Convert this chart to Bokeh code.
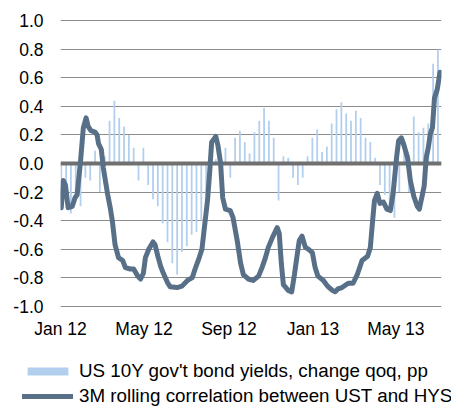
import pandas as pd
from bokeh.plotting import figure
from bokeh.layouts import column
from bokeh.models import (Range1d, FixedTicker, DatetimeTickFormatter, NumeralTickFormatter,
                          Legend, LegendItem, ColumnDataSource)
from bokeh.embed import file_html
from bokeh.resources import INLINE

# ---- data ----
bar_values = [
    -0.30, -0.26, -0.35, -0.22, -0.30, -0.10, -0.12, 0.09, -0.20, 0.05,
    0.30, 0.44, 0.32, 0.26, 0.20, 0.11, -0.12, 0.11, -0.15, -0.25,
    -0.30, -0.42, -0.55, -0.70, -0.78, -0.62, -0.58, -0.50, -0.48, -0.40,
    -0.22, -0.05, 0.03, -0.03, 0.11, -0.10, 0.18, 0.23, 0.15, 0.07,
    0.22, 0.30, 0.39, 0.30, 0.18, -0.26, 0.05, 0.04, -0.10, -0.15,
    -0.10, 0.05, 0.18, 0.24, 0.08, 0.12, 0.28, 0.38, 0.43, 0.35,
    0.30, 0.37, 0.32, 0.18, 0.15, 0.04, -0.15, -0.22, -0.30, -0.38,
    -0.20, 0.10, -0.20, 0.33, 0.22, 0.25, 0.28, 0.70, 0.80,
]
bar_dates = pd.date_range("2012-01-02", periods=len(bar_values), freq="7D")

corr_dates = [
    "2012-01-02", "2012-01-05", "2012-01-08", "2012-01-12", "2012-01-18", "2012-01-22",
    "2012-01-25", "2012-01-30", "2012-02-03", "2012-02-07", "2012-02-10", "2012-02-14",
    "2012-02-20", "2012-02-23", "2012-02-25", "2012-02-29", "2012-03-03", "2012-03-09",
    "2012-03-13", "2012-03-16", "2012-03-20", "2012-03-25", "2012-03-31", "2012-04-04",
    "2012-04-11", "2012-04-16", "2012-04-22", "2012-04-26", "2012-04-30", "2012-05-03",
    "2012-05-08", "2012-05-14", "2012-05-17", "2012-05-21", "2012-05-25", "2012-05-29",
    "2012-06-04", "2012-06-08", "2012-06-18", "2012-06-25", "2012-07-03", "2012-07-10",
    "2012-07-14", "2012-07-20", "2012-07-24", "2012-07-27", "2012-08-01", "2012-08-04",
    "2012-08-07", "2012-08-13", "2012-08-16", "2012-08-20", "2012-08-23", "2012-08-27",
    "2012-09-03", "2012-09-07", "2012-09-13", "2012-09-18", "2012-09-22", "2012-09-29",
    "2012-10-06", "2012-10-14", "2012-10-19", "2012-10-24", "2012-10-28", "2012-11-03",
    "2012-11-10", "2012-11-13", "2012-11-16", "2012-11-19", "2012-11-26", "2012-12-01",
    "2012-12-05", "2012-12-09", "2012-12-12", "2012-12-16", "2012-12-21", "2012-12-25",
    "2012-12-31", "2013-01-04", "2013-01-08", "2013-01-16", "2013-01-22", "2013-01-29",
    "2013-02-02", "2013-02-06", "2013-02-12", "2013-02-21", "2013-02-28", "2013-03-06",
    "2013-03-13", "2013-03-21", "2013-03-25", "2013-03-28", "2013-03-31", "2013-04-04",
    "2013-04-08", "2013-04-13", "2013-04-18", "2013-04-23", "2013-04-27", "2013-05-02",
    "2013-05-05", "2013-05-09", "2013-05-12", "2013-05-18", "2013-05-22", "2013-05-27",
    "2013-06-01", "2013-06-04", "2013-06-08", "2013-06-11", "2013-06-14", "2013-06-17",
    "2013-06-20", "2013-06-23", "2013-06-26", "2013-06-30", "2013-07-04",
]
corr_values = [
    -0.31, -0.12, -0.15, -0.31, -0.30, -0.24,
    -0.22, 0.02, 0.25, 0.32, 0.26, 0.23,
    0.22, 0.20, 0.14, 0.10, -0.03, -0.21,
    -0.31, -0.40, -0.57, -0.66, -0.68, -0.73,
    -0.74, -0.74, -0.79, -0.81, -0.77, -0.66,
    -0.60, -0.55, -0.57, -0.65, -0.72, -0.77,
    -0.835, -0.865, -0.87, -0.86, -0.82, -0.80,
    -0.74, -0.66, -0.60, -0.47, -0.26, -0.07,
    0.15, 0.19, 0.13, 0.00, -0.24, -0.32,
    -0.33, -0.38, -0.54, -0.70, -0.78, -0.81,
    -0.82, -0.79, -0.73, -0.66, -0.59, -0.52,
    -0.45, -0.49, -0.70, -0.85, -0.89, -0.90,
    -0.78, -0.64, -0.54, -0.51, -0.59, -0.60,
    -0.625, -0.73, -0.79, -0.82, -0.86, -0.89,
    -0.90, -0.88, -0.87, -0.84, -0.84, -0.78,
    -0.68, -0.65, -0.59, -0.42, -0.26, -0.21,
    -0.28, -0.27, -0.32, -0.33, -0.21, 0.04,
    0.16, 0.18, 0.14, 0.04, -0.12, -0.23,
    -0.30, -0.32, -0.23, -0.16, 0.04, 0.11,
    0.21, 0.25, 0.46, 0.52, 0.64,
]

x_tick_dates = ["2012-01-01", "2012-05-01", "2012-09-01", "2013-01-01", "2013-05-01"]
y_ticks = [-1.0, -0.8, -0.6, -0.4, -0.2, 0.0, 0.2, 0.4, 0.6, 0.8, 1.0]
zero_level = [0.0]
bar_label = "US 10Y gov't bond yields, change qoq, pp"
line_label = "3M rolling correlation between UST and HYS"

BAR_COLOR = "#b3cfee"
LINE_COLOR = "#587087"
FONT = "Liberation Sans"

bar_src = ColumnDataSource(dict(x=bar_dates, top=bar_values))
corr_src = ColumnDataSource(dict(x=pd.to_datetime(corr_dates), y=corr_values))

# ---------------- main chart ----------------
p = figure(width=451, height=345, x_axis_type="datetime",
           x_range=Range1d(pd.Timestamp("2011-12-31 22:00"), pd.Timestamp("2013-07-06 04:00")),
           y_range=Range1d(-1.01, 1.01),
           output_backend="svg", toolbar_location=None,
           min_border_left=60, min_border_right=10, min_border_top=19, min_border_bottom=38)
p.frame_align = False
p.outline_line_color = None
p.background_fill_color = "white"
p.border_fill_color = "white"

bars = p.vbar(x="x", top="top", bottom=0, width=2.6 * 86400000, source=bar_src,
              fill_color=BAR_COLOR, line_color=None)
p.hspan(y=zero_level, line_color="#707070", line_width=4)
line = p.line(x="x", y="y", source=corr_src, line_color=LINE_COLOR, line_width=5,
              line_join="round", line_cap="round")

x_ticks_ms = [pd.Timestamp(d).value // 10**6 for d in x_tick_dates]
p.xaxis.ticker = FixedTicker(ticks=x_ticks_ms)
fmt = "%b %y"
p.xaxis.formatter = DatetimeTickFormatter(microseconds=fmt, milliseconds=fmt, seconds=fmt,
                                          minsec=fmt, minutes=fmt, hourmin=fmt, hours=fmt,
                                          days=fmt, months=fmt, years=fmt)
p.yaxis.ticker = FixedTicker(ticks=y_ticks)
p.yaxis.formatter = NumeralTickFormatter(format="0.0")

for ax in (p.xaxis[0], p.yaxis[0]):
    ax.axis_line_color = None
    ax.major_tick_line_color = None
    ax.minor_tick_line_color = None
    ax.major_tick_out = 0
    ax.major_tick_in = 0
    ax.minor_tick_out = 0
    ax.major_label_text_font = FONT
    ax.major_label_text_font_size = "17.5px"
    ax.major_label_text_color = "#000000"
p.yaxis.major_label_standoff = 17
p.xaxis.major_label_standoff = 11

p.xgrid.visible = False
p.ygrid.ticker = FixedTicker(ticks=y_ticks)
p.ygrid.grid_line_color = "#8c8c8c"
p.ygrid.grid_line_width = 1

# ---------------- legend strip (same series, drawn off-range; only the legend shows) ----------------
q = figure(width=451, height=62, output_backend="svg", toolbar_location=None,
           x_range=Range1d(0, 1), y_range=Range1d(0, 1),
           min_border_left=0, min_border_right=0, min_border_top=0, min_border_bottom=0)
q.frame_align = False
q.axis.visible = False
q.grid.visible = False
q.outline_line_color = None
q.border_fill_color = "white"
q.background_fill_color = "white"
leg_bar = q.vbar(x="x", top="top", bottom=0, width=1, source=bar_src,
                 fill_color=BAR_COLOR, line_color=None)
leg_line = q.line(x="x", y="y", source=corr_src, line_color=LINE_COLOR, line_width=5,
                  line_cap="round")

legend = Legend(items=[LegendItem(label=bar_label, renderers=[leg_bar]),
                       LegendItem(label=line_label, renderers=[leg_line])],
                location=(22, 0), orientation="vertical",
                label_text_font=FONT, label_text_font_size="18.8px", label_text_color="#000000",
                glyph_width=51, glyph_height=10, label_standoff=6, label_height=20,
                spacing=3, padding=0, margin=0,
                background_fill_alpha=0, border_line_color=None)
q.add_layout(legend, "center")

layout = column(p, q, spacing=0)
open("out.html", "w").write(file_html(layout, INLINE))
